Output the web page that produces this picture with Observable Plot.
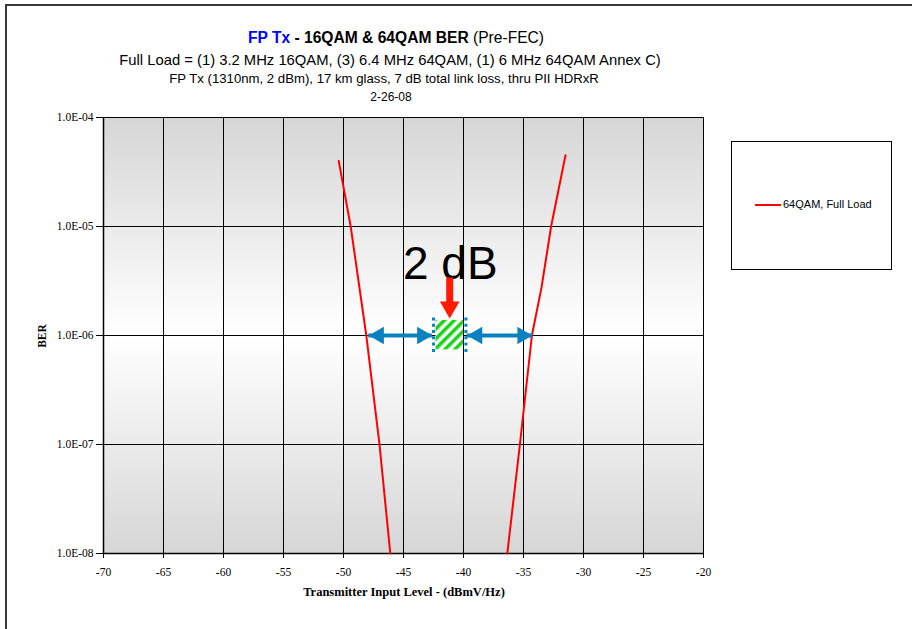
<!DOCTYPE html>
<html><head><meta charset="utf-8">
<script src="https://cdn.jsdelivr.net/npm/d3@7"></script>
<script src="https://cdn.jsdelivr.net/npm/@observablehq/plot@0.6"></script>
<style>
html,body{margin:0;padding:0;background:#fff;overflow:hidden;}
#wrap{position:relative;width:912px;height:629px;overflow:hidden;background:#fff;}
#plot svg{position:absolute;left:0;top:0;}
#plot svg g[aria-label*="tick label"], #plot svg g[aria-label*="tick label"] text{font-family:"Liberation Serif","Times New Roman",serif !important;font-size:11.5px !important;fill:#000 !important;}
#border{position:absolute;left:5px;top:4px;width:1000px;height:1000px;border-top:2px solid #383838;border-left:2px solid #383838;}
.t{position:absolute;white-space:nowrap;transform:translateX(-50%);line-height:1;font-family:"Liberation Sans",Arial,sans-serif;color:#000;}
.ax{position:absolute;white-space:nowrap;line-height:1;font-family:"Liberation Serif","Times New Roman",serif;font-weight:bold;color:#000;}
#legend{position:absolute;left:731px;top:141px;width:159px;height:127px;border:1px solid #000;background:#fff;}
#legend .sw{position:absolute;left:23px;top:62px;width:26px;height:2px;background:#ff0000;}
#legend .lb{position:absolute;left:51px;top:57px;font-family:"Liberation Sans",Arial,sans-serif;font-size:11px;line-height:1;white-space:nowrap;}
</style></head><body>
<div id="wrap">
  <div id="border"></div>
  <div id="plot"></div>
  <div class="t" style="left:396px;top:30px;font-size:15.6px"><b style="color:#0000ff">FP Tx</b><b> - 16QAM &amp; 64QAM BER</b> (Pre-FEC)</div>
  <div class="t" style="left:390px;top:53px;font-size:14.8px">Full Load = (1) 3.2 MHz 16QAM, (3) 6.4 MHz 64QAM, (1) 6 MHz 64QAM Annex C)</div>
  <div class="t" style="left:384px;top:72px;font-size:13.2px">FP Tx (1310nm, 2 dBm), 17 km glass, 7 dB total link loss, thru PII HDRxR</div>
  <div class="t" style="left:391px;top:91px;font-size:12px">2-26-08</div>
  <div class="ax" style="left:43px;top:336px;font-size:11.5px;transform:translate(-50%,-50%) rotate(-90deg)">BER</div>
  <div class="ax" style="left:404px;top:586px;font-size:12.5px;transform:translateX(-50%)">Transmitter Input Level - (dBmV/Hz)</div>
  <div id="legend"><div class="sw"></div><div class="lb">64QAM, Full Load</div></div>
</div>
<script>
// ---- data ----
const xTicks = [-70, -65, -60, -55, -50, -45, -40, -35, -30, -25, -20];
const yTicks = [1e-4, 1e-5, 1e-6, 1e-7, 1e-8];
const leftLevel = [-50.4, -49.4, -48.1, -47.0, -46.1];
const leftBER   = [4.0e-5, 1.0e-5, 1.0e-6, 1.0e-7, 1.0e-8];
const rightLevel = [-31.5, -32.7, -33.5, -34.3, -35.3, -36.35];
const rightBER   = [4.5e-5, 1.0e-5, 2.75e-6, 1.0e-6, 1.0e-7, 1.0e-8];
const seriesName = "64QAM, Full Load";

// annotation values (data coordinates)
const gapText = ["2 dB"];
const gapTextLevel = [-41.1];
const gapTextBER = [4.5e-6];
const spanStart = [-47.9, -39.7];
const spanEnd = [-42.6, -34.25];
const spanBER = 1e-6;
const boxLevel = [-42.5, -39.8];
const boxBER = [1.45e-6, 7.0e-7];
const downArrowLevel = -41.15;
const downArrowBER = [2.85e-6, 1.43e-6];

const lineData = [
  ...leftLevel.map((x, i) => ({x, y: leftBER[i], side: "low"})),
  ...rightLevel.map((x, i) => ({x, y: rightBER[i], side: "high"}))
];
const spans = spanStart.map((s, i) => ({x1: s, x2: spanEnd[i], y: spanBER}));
const blue = "#0b82bf";
const red = "#ff1a00";
const serif = "'Liberation Serif','Times New Roman',serif";

const chart = Plot.plot({
  width: 912, height: 629,
  marginLeft: 103, marginRight: 209, marginTop: 117, marginBottom: 76,
  style: {fontFamily: serif, fontSize: "11px", color: "#000", background: "transparent", overflow: "visible"},
  x: {domain: [-70, -20]},
  y: {type: "log", domain: [1e-8, 1e-4]},
  marks: [
    Plot.frame({fill: "url(#bgGrad)", stroke: "#808080"}),
    Plot.gridX({ticks: xTicks, stroke: "#000", strokeOpacity: 1}),
    Plot.gridY({ticks: yTicks, stroke: "#000", strokeOpacity: 1}),
    Plot.ruleX([-70], {stroke: "#000", strokeWidth: 1.5}),
    Plot.ruleY([1e-8], {stroke: "#000", strokeWidth: 1.5}),
    Plot.axisX({ticks: xTicks, tickSize: 5, tickPadding: 9, tickFormat: d => String(d), label: null, fontFamily: serif, fontSize: 11.5, fill: "#000"}),
    Plot.axisY({ticks: yTicks, tickSize: 7, tickPadding: 3, tickFormat: d => "1.0E-0" + Math.round(-Math.log10(d)), label: null, fontFamily: serif, fontSize: 11.5, fill: "#000"}),
    Plot.line(lineData, {x: "x", y: "y", z: "side", stroke: "#ff0000", strokeWidth: 2, title: () => seriesName}),
    // annotation: 2 dB label
    Plot.text(gapText, {x: gapTextLevel, y: gapTextBER, text: d => d, fontSize: 46, fontFamily: "'Liberation Sans',Arial,sans-serif", textAnchor: "middle", lineAnchor: "middle", fill: "#000"}),
    // red arrow
    Plot.ruleX([downArrowLevel], {y1: downArrowBER[0], y2: downArrowBER[1], stroke: red, strokeWidth: 7, dy: -8}),
    Plot.dot([downArrowLevel], {x: d => d, y: downArrowBER[1], symbol: "triangle", r: 7.3, rotate: 180, fill: red, stroke: "none", dy: -11.3}),
    // blue double arrows
    Plot.ruleY(spans, {x1: "x1", x2: "x2", y: "y", stroke: blue, strokeWidth: 4}),
    Plot.dot(spans, {x: "x1", y: "y", symbol: "triangle", r: 6.5, rotate: -90, fill: blue, stroke: "none", dx: 10.1}),
    Plot.dot(spans, {x: "x2", y: "y", symbol: "triangle", r: 6.5, rotate: 90, fill: blue, stroke: "none", dx: -10.1}),
    // hatched marker box
    Plot.rect([0], {x1: boxLevel[0], x2: boxLevel[1], y1: boxBER[0], y2: boxBER[1], fill: "url(#hatch)", inset: 2.5}),
    Plot.ruleX(boxLevel, {x: d => d, y1: boxBER[0], y2: boxBER[1], stroke: blue, strokeWidth: 3, strokeDasharray: "3,3.3"})
  ]
});

const svg = d3.select(chart);
const defs = svg.insert("defs", ":first-child");
const g = defs.append("linearGradient").attr("id", "bgGrad").attr("x1", 0).attr("y1", 0).attr("x2", 0).attr("y2", 1);
g.append("stop").attr("offset", "0").attr("stop-color", "#d6d6d6");
g.append("stop").attr("offset", "0.5").attr("stop-color", "#ffffff");
g.append("stop").attr("offset", "1").attr("stop-color", "#d6d6d6");
const p = defs.append("pattern").attr("id", "hatch").attr("patternUnits", "userSpaceOnUse")
  .attr("width", 7).attr("height", 7).attr("patternTransform", "rotate(45)");
p.append("rect").attr("width", 7).attr("height", 7).attr("fill", "#ffffff");
p.append("rect").attr("width", 3.5).attr("height", 7).attr("fill", "#18d418");
svg.selectAll("g[aria-label*='tick label']").attr("font-size", 11.5).attr("font-family", serif).style("font-size", "11.5px").style("font-family", serif);

document.getElementById("plot").appendChild(chart);
</script>
</body></html>
